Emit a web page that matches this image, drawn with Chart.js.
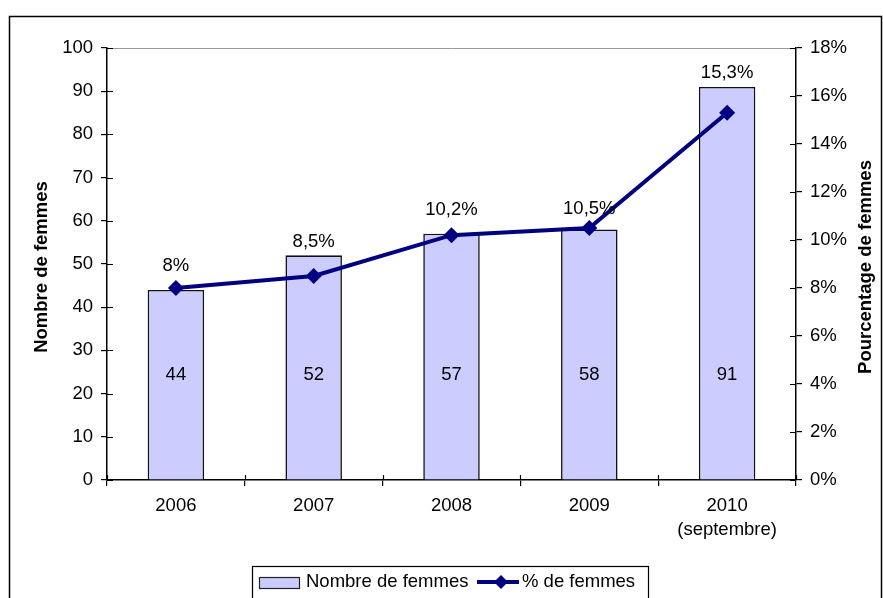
<!DOCTYPE html>
<html lang="fr">
<head>
<meta charset="utf-8">
<title>Nombre et pourcentage de femmes</title>
<script src="https://cdn.jsdelivr.net/npm/chart.js@4/dist/chart.umd.min.js"></script>
<style>
  html, body { margin: 0; padding: 0; background: #fff; }
  #wrap { width: 883px; height: 598px; position: relative; }
</style>
</head>
<body>
<div id="wrap"><canvas id="chart"></canvas></div>
<script>
// Données
const years = [['2006'], ['2007'], ['2008'], ['2009'], ['2010', '(septembre)']];
const nombreFemmes = [44, 52, 57, 58, 91];
const pctFemmes = [8, 8.5, 10.2, 10.5, 15.3];
const pctLabels = ['8%', '8,5%', '10,2%', '10,5%', '15,3%'];

const FONT = '"Liberation Sans", Arial, sans-serif';
const FS = 18.5;
const NAVY = '#000080';
const BAR_FILL = '#CCCCFF';

// Écart vertical des étiquettes de pourcentage au-dessus du point / de la barre
const pctLabelGap = [22, 13, 24, 19, 14];

// Cadre, graduations croisées, titres, étiquettes et légende
const decor = {
  id: 'decor',
  beforeDraw(chart) {
    const ctx = chart.ctx;
    ctx.save();
    ctx.fillStyle = '#fff';
    ctx.fillRect(0, 0, chart.width, chart.height);
    ctx.strokeStyle = '#000';
    ctx.lineWidth = 1.5;
    ctx.beginPath();
    ctx.moveTo(9.5, chart.height + 2);
    ctx.lineTo(9.5, 16.5);
    ctx.lineTo(881.5, 16.5);
    ctx.lineTo(881.5, chart.height + 2);
    ctx.stroke();
    ctx.restore();
  },
  afterDatasetsDraw(chart) {
    const ctx = chart.ctx;
    const a = chart.chartArea;
    const y = chart.scales.y, y1 = chart.scales.y1;
    ctx.save();

    // bordure grise de la zone de traçage (haut)
    ctx.strokeStyle = '#999';
    ctx.lineWidth = 1;
    ctx.beginPath();
    ctx.moveTo(a.left, a.top + 0.5);
    ctx.lineTo(a.right, a.top + 0.5);
    ctx.stroke();

    // moitiés intérieures des graduations
    ctx.strokeStyle = '#000';
    ctx.lineWidth = 1.2;
    ctx.beginPath();
    y.ticks.forEach((t, i) => {
      const py = Math.round(y.getPixelForTick(i)) + 0.5;
      ctx.moveTo(a.left, py); ctx.lineTo(a.left + 6, py);
    });
    y1.ticks.forEach((t, i) => {
      const py = Math.round(y1.getPixelForTick(i)) + 0.5;
      ctx.moveTo(a.right, py); ctx.lineTo(a.right - 6, py);
    });
    for (let i = 0; i <= years.length; i++) {
      const px = Math.round(a.left + (a.right - a.left) * i / years.length) + 0.5;
      ctx.moveTo(px, a.bottom); ctx.lineTo(px, a.bottom - 5);
    }
    ctx.stroke();

    // valeurs des barres
    ctx.fillStyle = '#000';
    ctx.font = FS + 'px ' + FONT;
    ctx.textAlign = 'center';
    ctx.textBaseline = 'middle';
    const barMeta = chart.getDatasetMeta(0);
    barMeta.data.forEach((bar, i) => {
      ctx.fillText(String(nombreFemmes[i]), bar.x, a.bottom - 105);
    });

    // pourcentages au-dessus de la courbe
    const lineMeta = chart.getDatasetMeta(1);
    lineMeta.data.forEach((pt, i) => {
      const top = Math.min(pt.y, barMeta.data[i].y);
      ctx.fillText(pctLabels[i], pt.x, top - pctLabelGap[i]);
    });

    // titres des axes
    ctx.font = 'bold ' + FS + 'px ' + FONT;
    const midY = (a.top + a.bottom) / 2 + 3;
    ctx.translate(42, midY);
    ctx.rotate(-Math.PI / 2);
    ctx.fillText('Nombre de femmes', 0, 0);
    ctx.setTransform(1, 0, 0, 1, 0, 0);
    ctx.translate(866, midY);
    ctx.rotate(-Math.PI / 2);
    ctx.fillText('Pourcentage de femmes', 0, 0);
    ctx.setTransform(1, 0, 0, 1, 0, 0);

    // légende
    ctx.strokeStyle = '#000';
    ctx.lineWidth = 1.2;
    ctx.strokeRect(252.5, 566.5, 396, 40);
    ctx.fillStyle = BAR_FILL;
    ctx.fillRect(259, 577, 40, 11);
    ctx.strokeStyle = '#222';
    ctx.strokeRect(259.5, 577.5, 40, 11);
    ctx.fillStyle = '#000';
    ctx.font = FS + 'px ' + FONT;
    ctx.textAlign = 'left';
    ctx.fillText('Nombre de femmes', 306, 582);
    ctx.strokeStyle = NAVY;
    ctx.lineWidth = 4;
    ctx.beginPath();
    ctx.moveTo(477, 582); ctx.lineTo(519, 582);
    ctx.stroke();
    ctx.fillStyle = NAVY;
    ctx.beginPath();
    ctx.moveTo(501, 575); ctx.lineTo(508, 582); ctx.lineTo(501, 589); ctx.lineTo(494, 582);
    ctx.closePath();
    ctx.fill();
    ctx.fillStyle = '#000';
    ctx.fillText('% de femmes', 522, 582);

    ctx.restore();
  }
};

new Chart(document.getElementById('chart'), {
  type: 'bar',
  data: {
    labels: years,
    datasets: [
      {
        label: 'Nombre de femmes',
        data: nombreFemmes,
        backgroundColor: BAR_FILL,
        borderColor: '#111',
        borderWidth: 1.6,
        barPercentage: 0.41,
        categoryPercentage: 1,
        yAxisID: 'y',
        order: 2,
      },
      {
        label: '% de femmes',
        type: 'line',
        data: pctFemmes,
        borderColor: NAVY,
        backgroundColor: NAVY,
        borderWidth: 4,
        pointStyle: 'rectRot',
        pointRadius: 8,
        pointBackgroundColor: NAVY,
        pointBorderColor: NAVY,
        pointBorderWidth: 0,
        tension: 0,
        yAxisID: 'y1',
        order: 1,
      }
    ]
  },
  options: {
    responsive: true,
    maintainAspectRatio: false,
    animation: false,
    layout: { padding: { top: 48, left: 0, right: 0, bottom: 0 } },
    plugins: {
      legend: { display: false },
      tooltip: { enabled: false },
    },
    scales: {
      x: {
        offset: true,
        grid: { display: true, drawOnChartArea: false, offset: true, color: '#000', tickLength: 6, lineWidth: 1.2 },
        border: { color: '#000', width: 1.5 },
        ticks: { color: '#000', padding: 8, maxRotation: 0, font: { family: FONT, size: FS, lineHeight: 1.3 } },
        afterFit: s => { s.height = 118; },
      },
      y: {
        position: 'left',
        min: 0, max: 100,
        grid: { drawOnChartArea: false, color: '#000', tickLength: 6, lineWidth: 1.2 },
        border: { color: '#000', width: 1.5 },
        ticks: { stepSize: 10, color: '#000', padding: 8, font: { family: FONT, size: FS } },
        afterFit: s => { s.width = 107; },
      },
      y1: {
        position: 'right',
        min: 0, max: 18,
        grid: { drawOnChartArea: false, color: '#000', tickLength: 6, lineWidth: 1.2 },
        border: { color: '#000', width: 1.5 },
        ticks: { stepSize: 2, color: '#000', padding: 8, font: { family: FONT, size: FS }, callback: v => v + '%' },
        afterFit: s => { s.width = 87; },
      }
    }
  },
  plugins: [decor]
});
</script>
</body>
</html>
